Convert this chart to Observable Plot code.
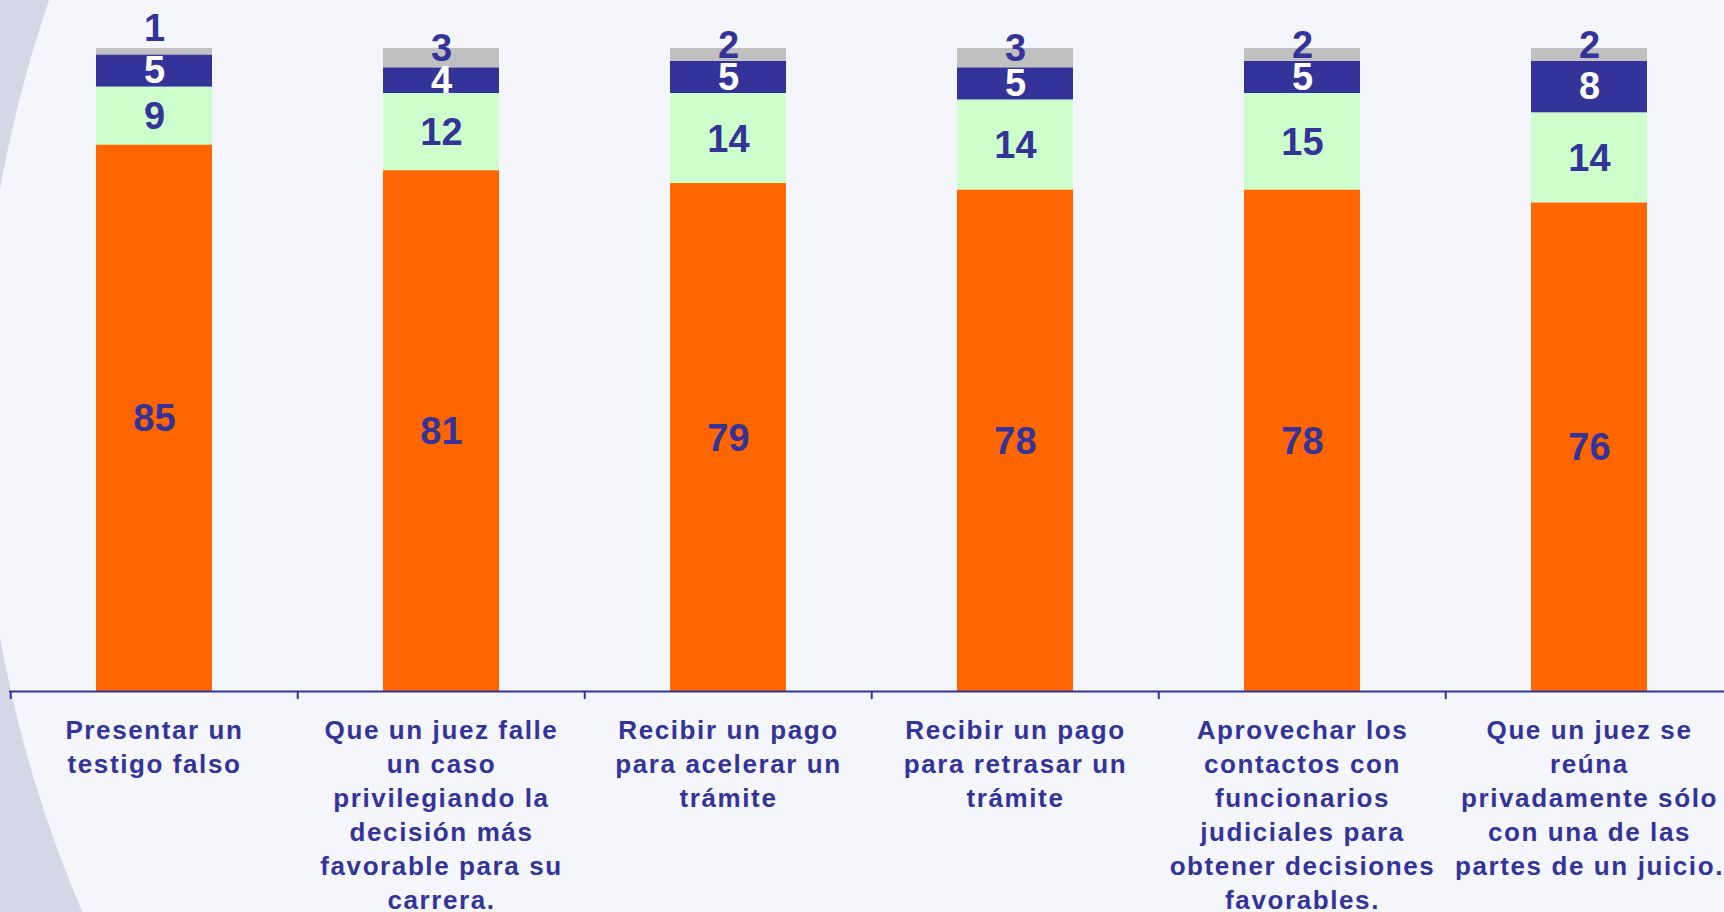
<!DOCTYPE html>
<html>
<head>
<meta charset="utf-8">
<script src="https://cdn.jsdelivr.net/npm/d3@7"></script>
<script src="https://cdn.jsdelivr.net/npm/@observablehq/plot@0.6"></script>
<style>
  html, body { margin: 0; padding: 0; width: 1724px; height: 912px; overflow: hidden; background: #D4D8E6; }
  #bg { position: absolute; left: -20px; top: -855px; width: 2536px; height: 2536px; border-radius: 50%; background: #F5F6FB; }
  #chart { position: absolute; left: 0; top: 0; }
</style>
</head>
<body>
<div id="bg"></div>
<div id="chart"></div>
<script>
// ---- Data ----
const tickLabels = [
  "Presentar un\ntestigo falso",
  "Que un juez falle\nun caso\nprivilegiando la\ndecisión más\nfavorable para su\ncarrera.",
  "Recibir un pago\npara acelerar un\ntrámite",
  "Recibir un pago\npara retrasar un\ntrámite",
  "Aprovechar los\ncontactos con\nfuncionarios\njudiciales para\nobtener decisiones\nfavorables.",
  "Que un juez se\nreúna\nprivadamente sólo\ncon una de las\npartes de un juicio."
];
const categories = tickLabels.map(s => s.replace(/\n/g, " "));

// series (bottom to top)
const seriesKeys = ["naranja", "verde", "azul", "gris"];
const valuesNaranja = [85, 81, 79, 78, 78, 76];
const valuesVerde   = [9, 12, 14, 14, 15, 14];
const valuesAzul    = [5, 4, 5, 5, 5, 8];
const valuesGris    = [1, 3, 2, 3, 2, 2];
const seriesColors  = ["#FF6600", "#CCFFCC", "#333399", "#C0C0C0"];

const allValues = [valuesNaranja, valuesVerde, valuesAzul, valuesGris];
const table = categories.flatMap((c, i) =>
  seriesKeys.map((s, j) => ({cat: c, series: s, value: allValues[j][i]}))
);

// ---- Chart ----
const navy = "#333399";
const font = "'Liberation Sans', Arial, sans-serif";
const W = 1724, H = 912;
const xRange = [8.7, 1734];
const pad = 0.5965;

// replica of the band scale to find boundaries between bands
const band = d3.scaleBand().domain(categories).range(xRange).paddingInner(pad).paddingOuter(pad / 2);
const halfStep = band.step() / 2;

const stackOpts = {x: "cat", y: "value", z: "series", order: seriesKeys};

const chart = Plot.plot({
  width: W,
  height: H,
  marginTop: 48,
  marginBottom: 221,
  marginLeft: 9,
  marginRight: 0,
  x: {domain: categories, range: xRange, paddingInner: pad, paddingOuter: pad / 2, axis: null},
  y: {domain: [0, 100], axis: null},
  color: {domain: seriesKeys, range: seriesColors},
  style: {background: "transparent", fontFamily: font},
  marks: [
    Plot.barY(table, Plot.stackY({...stackOpts, fill: "series"})),
    Plot.ruleY([0], {stroke: navy, strokeWidth: 2.2}),
    Plot.axisX({tickSize: 8, tickFormat: () => "", dx: -halfStep, stroke: navy, strokeWidth: 2, label: null, strokeOpacity: 1}),
    Plot.text(table, Plot.stackY({...stackOpts,
      text: d => (d.series === "naranja" || d.series === "verde") ? String(d.value) : null,
      fill: navy, fontSize: 38, fontWeight: "bold", dy: 1})),
    Plot.text(table, Plot.stackY({...stackOpts,
      text: d => d.series === "azul" ? String(d.value) : null,
      fill: "white", fontSize: 38, fontWeight: "bold"})),
    Plot.text(table, Plot.stackY({...stackOpts,
      text: d => (d.series === "gris" && d.value > 1) ? String(d.value) : null,
      fill: navy, fontSize: 38, fontWeight: "bold", dy: -9.5})),
    Plot.text(table, Plot.stackY({...stackOpts,
      text: d => (d.series === "gris" && d.value <= 1) ? String(d.value) : null,
      fill: navy, fontSize: 38, fontWeight: "bold", dy: -23})),
    Plot.text(categories, {
      x: d => d,
      frameAnchor: "bottom",
      lineAnchor: "top",
      dy: 23,
      text: (d, i) => tickLabels[i],
      lineHeight: 1.31,
      fontSize: 26,
      fontWeight: "bold",
      fill: navy
    })
  ]
});
document.getElementById("chart").appendChild(chart);

// widen letter spacing of the category labels only
chart.querySelectorAll("g").forEach(g => {
  if (g.textContent.includes("Presentar") && g.querySelectorAll("text").length === categories.length) {
    g.style.letterSpacing = "1.6px";
  }
});
</script>
</body>
</html>
